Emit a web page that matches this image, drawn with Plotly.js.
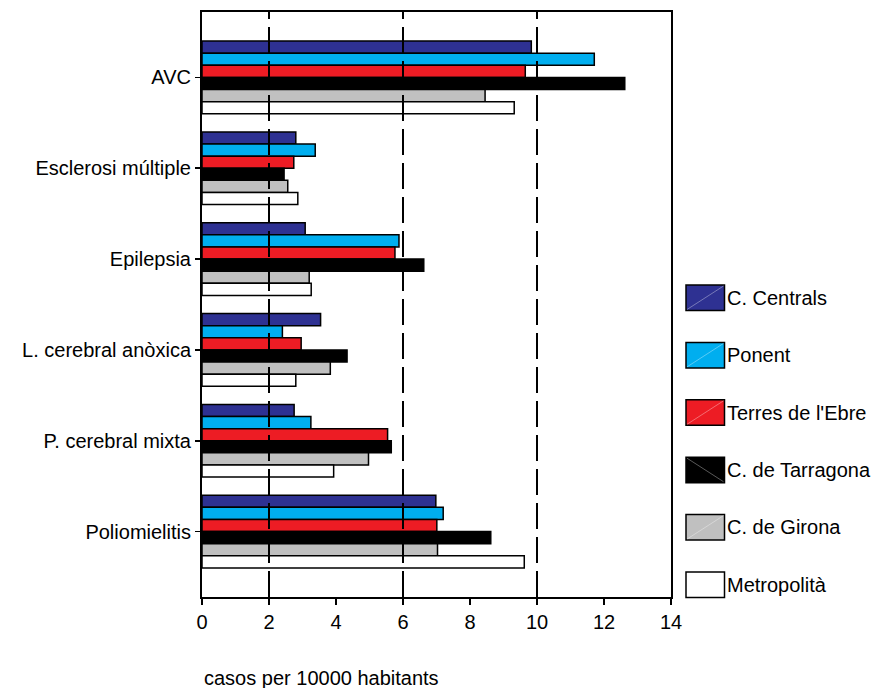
<!DOCTYPE html>
<html>
<head>
<meta charset="utf-8">
<script src="https://cdn.plot.ly/plotly-3.0.1.min.js"></script>
<style>html,body{margin:0;padding:0;background:#fff}#chart{width:881px;height:688px}</style>
</head>
<body>
<div id="chart"></div>
<script>
const categories = ["AVC", "Esclerosi múltiple", "Epilepsia", "L. cerebral anòxica", "P. cerebral mixta", "Poliomielitis"];
const seriesNames = ["C. Centrals", "Ponent", "Terres de l'Ebre", "C. de Tarragona", "C. de Girona", "Metropolità"];
const cCentrals   = [9.83, 2.80, 3.08, 3.54, 2.75, 6.98];
const ponent      = [11.71, 3.38, 5.88, 2.40, 3.25, 7.20];
const terresEbre  = [9.65, 2.74, 5.76, 2.96, 5.54, 7.01];
const cTarragona  = [12.62, 2.45, 6.62, 4.33, 5.65, 8.62];
const cGirona     = [8.45, 2.56, 3.20, 3.83, 4.97, 7.03];
const metropolita = [9.32, 2.86, 3.26, 2.80, 3.93, 9.62];
const xTicks = [0, 2, 4, 6, 8, 10, 12, 14];
const gridVals = [2, 6, 10];
const colors = ["#2e3192", "#00aeef", "#ed1c24", "#000000", "#c0c0c0", "#ffffff"];

const seriesValues = [cCentrals, ponent, terresEbre, cTarragona, cGirona, metropolita];
const font = "Liberation Sans, Arial, sans-serif";
const FS = 20;

const traces = seriesValues.map((vals, i) => ({
  type: "bar",
  orientation: "h",
  name: seriesNames[i],
  x: vals,
  y: categories,
  showlegend: false,
  marker: { color: colors[i], line: { color: "#000", width: 1.5 } }
}));

const shapes = gridVals.map(v => ({
  type: "line", xref: "x", yref: "paper", x0: v, x1: v, y0: 0, y1: 1,
  layer: "above", line: { color: "#000", width: 2, dash: "26px,8px" }
}));

// custom legend (large swatches, like the reference)
const plotW = 469, plotH = 585, plotL = 202, plotT = 12;
const px = x => (x - plotL) / plotW;
const py = y => (plotT + plotH - y) / plotH;
const annotations = [];
seriesNames.forEach((name, i) => {
  const top = 285 + i * 57.4, bot = top + 25.5;
  shapes.push({
    type: "rect", xref: "paper", yref: "paper",
    x0: px(686), x1: px(724.5), y0: py(bot), y1: py(top),
    fillcolor: colors[i], line: { color: "#000", width: 1.5 }, layer: "above"
  });
  if (i < 5) {
    const diag = i === 3
      ? { x0: px(687), y0: py(top + 1), x1: px(723.5), y1: py(bot - 1) }
      : { x0: px(687), y0: py(bot - 1), x1: px(723.5), y1: py(top + 1) };
    shapes.push(Object.assign({ type: "line", xref: "paper", yref: "paper", layer: "above",
      line: { color: "rgba(255,255,255,0.35)", width: 1 } }, diag));
  }
  annotations.push({
    text: name, xref: "paper", yref: "paper", x: px(725), y: py((top + bot) / 2),
    xanchor: "left", yanchor: "middle", showarrow: false,
    font: { family: font, size: FS, color: "#000" }
  });
});
annotations.push({
  text: "casos per 10000 habitants", xref: "paper", yref: "paper",
  x: 0, y: py(678), xanchor: "left", yanchor: "middle", showarrow: false,
  font: { family: font, size: FS, color: "#000" }
});

const layout = {
  width: 881, height: 688,
  margin: { l: 202, r: 210, t: 12, b: 91 },
  paper_bgcolor: "#fff", plot_bgcolor: "#fff",
  font: { family: font, size: FS, color: "#000" },
  barmode: "group", bargap: 0.2, bargroupgap: 0,
  showlegend: false,
  xaxis: {
    range: [0, 14], tickvals: xTicks, ticktext: xTicks.map(String),
    showgrid: false, zeroline: false,
    showline: true, linecolor: "#000", linewidth: 2, mirror: true,
    ticks: "outside", ticklen: 6, tickwidth: 2, tickcolor: "#000",
    tickfont: { family: font, size: FS }
  },
  yaxis: {
    type: "category", range: [5.72, -0.72],
    showgrid: false, zeroline: false,
    showline: true, linecolor: "#000", linewidth: 2, mirror: true,
    ticks: "outside", ticklen: 5, tickwidth: 1.5, tickcolor: "#000",
    tickfont: { family: font, size: FS }
  },
  shapes: shapes,
  annotations: annotations
};

Plotly.newPlot("chart", traces, layout, { staticPlot: true, displayModeBar: false });
</script>
</body>
</html>
